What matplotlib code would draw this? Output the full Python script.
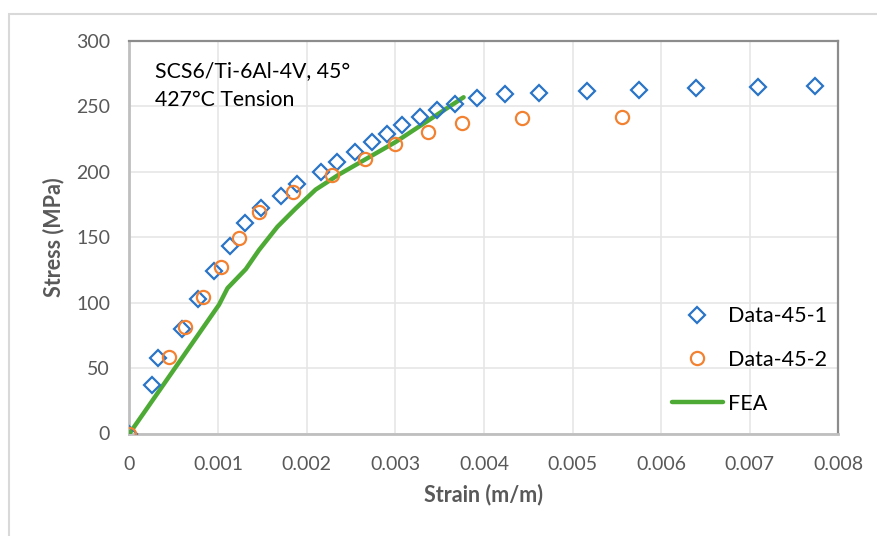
import matplotlib
matplotlib.use("Agg")
import matplotlib.pyplot as plt
from matplotlib.patches import Rectangle

# data
strain_1 = [0.0, 0.000255, 0.000326, 0.000593, 0.000768, 0.000956, 0.001136,
            0.001305, 0.001481, 0.001706, 0.001893, 0.002156, 0.002343, 0.00255,
            0.002733, 0.00291, 0.003079, 0.003281, 0.003468, 0.003675, 0.003918,
            0.004237, 0.004623, 0.005167, 0.005752, 0.006397, 0.007087, 0.007736]
stress_1 = [0.0, 37.3, 57.8, 80.1, 102.7, 124.3, 143.3,
            160.6, 172.5, 181.6, 191.0, 199.9, 207.2, 214.8,
            223.0, 228.8, 235.6, 242.2, 247.3, 252.1, 256.5,
            259.5, 260.5, 262.0, 262.6, 264.1, 264.5, 265.8]

strain_2 = [0.0, 0.000442, 0.00063, 0.000832, 0.001031, 0.001237, 0.001462,
            0.001848, 0.002287, 0.002655, 0.002992, 0.003367, 0.003749,
            0.004424, 0.005557]
stress_2 = [0.0, 58.3, 81.1, 104.7, 127.1, 149.2, 169.4,
            184.9, 197.9, 210.0, 221.2, 230.1, 237.2,
            241.0, 241.7]

strain_fea = [0.0, 0.00101, 0.001106, 0.001312, 0.001462, 0.001669, 0.001875,
              0.0021, 0.002362, 0.003, 0.00377]
stress_fea = [0.0, 98.4, 111.1, 125.6, 140.3, 158.0, 172.0,
              186.4, 197.9, 222.7, 257.0]

x_ticks = [0, 0.001, 0.002, 0.003, 0.004, 0.005, 0.006, 0.007, 0.008]
x_labels = ["0", "0.001", "0.002", "0.003", "0.004", "0.005", "0.006", "0.007", "0.008"]
y_ticks = [0, 50, 100, 150, 200, 250, 300]

plt.rcParams['font.family'] = ['Lato', 'DejaVu Sans']

blue = '#2A74C8'
orange = '#F28232'
green = '#4DAA34'
grey_txt = '#595959'

fig = plt.figure(figsize=(8.78, 5.36), dpi=100)
fig.patch.set_facecolor('white')

# chart area border (cropped at right and bottom in the reference)
fig.patches.append(Rectangle((8.5 / 878, -0.1), 1.2, (536 - 13.5) / 536 + 0.1,
                             transform=fig.transFigure, fill=False,
                             edgecolor='#D9D9D9', linewidth=1.5, zorder=0))

ax = fig.add_axes([129.5 / 878, (536 - 433.5) / 536, 709 / 878, 392.5 / 536])

ax.plot(strain_fea, stress_fea, '-', color=green, linewidth=3.2, label='FEA',
        zorder=3, solid_capstyle='round', solid_joinstyle='round')
ax.plot(strain_1, stress_1, 'D', linestyle='none', markersize=8.3,
        markerfacecolor='none', markeredgecolor=blue, markeredgewidth=1.6,
        label='Data-45-1', zorder=4)
ax.plot(strain_2, stress_2, 'o', linestyle='none', markersize=9.5,
        markerfacecolor='none', markeredgecolor=orange, markeredgewidth=1.6,
        label='Data-45-2', zorder=4)

ax.set_xlim(0, 0.008)
ax.set_ylim(0, 300)
ax.set_xticks(x_ticks)
ax.set_xticklabels(x_labels)
ax.set_yticks(y_ticks)
ax.tick_params(length=0, labelsize=14, labelcolor=grey_txt)
ax.tick_params(axis='y', pad=14)
ax.tick_params(axis='x', pad=16)
ax.grid(True, color='#E6E6E6', linewidth=1.2)
ax.set_axisbelow(True)

for side in ['left', 'bottom']:
    ax.spines[side].set_color('#BFBFBF')
    ax.spines[side].set_linewidth(2)
for side in ['top', 'right']:
    ax.spines[side].set_color('#8C8C8C')
    ax.spines[side].set_linewidth(1.6)

ax.set_xlabel('Strain (m/m)', fontsize=15.5, fontweight='bold', color=grey_txt, labelpad=8)
ax.set_ylabel('Stress (MPa)', fontsize=15.5, fontweight='bold', color=grey_txt, labelpad=8)

ax.text(0.036, 0.95, 'SCS6/Ti-6Al-4V, 45°\n427°C Tension', transform=ax.transAxes,
        fontsize=15.3, va='top', ha='left', color='black', linespacing=1.6)

h, l = ax.get_legend_handles_labels()
order = [1, 2, 0]
leg = ax.legend([h[i] for i in order], [l[i] for i in order], loc='lower left',
                bbox_to_anchor=(0.753, 0.029), borderaxespad=0, frameon=False,
                fontsize=15.5, handlelength=2.37, labelspacing=1.1,
                handletextpad=0.25)

fig.savefig('out.png', dpi=100)
